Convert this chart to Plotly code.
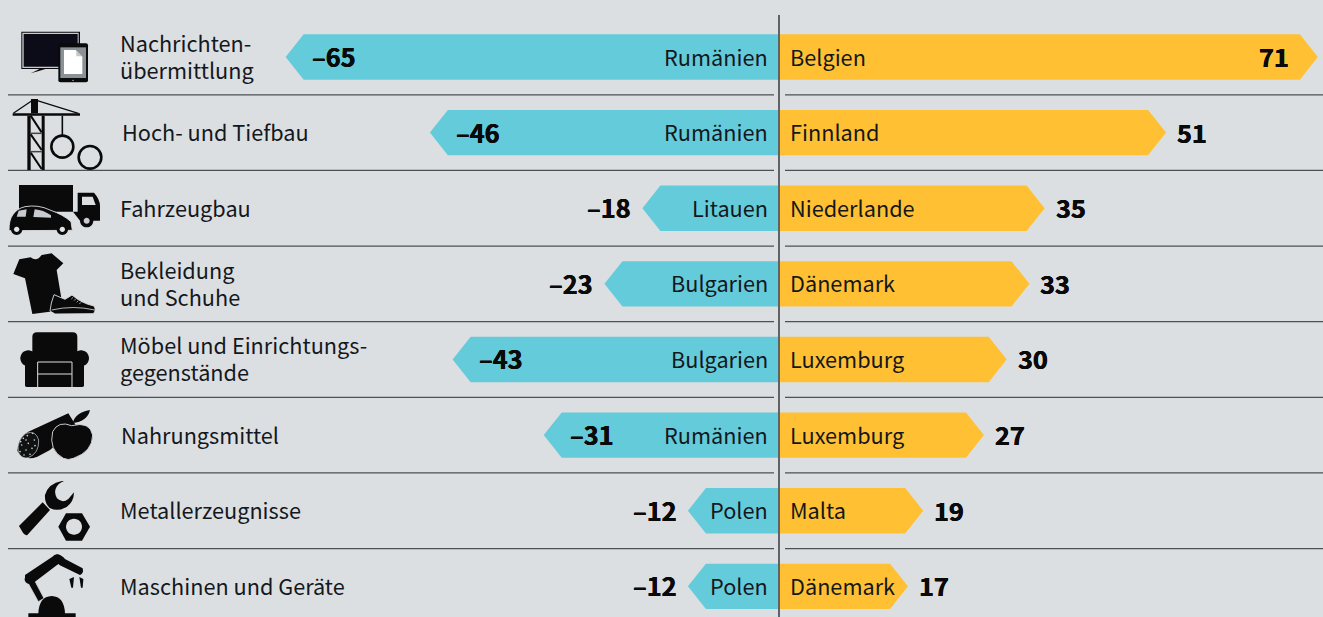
import re
import plotly.graph_objects as go

# ---------- data ----------
categories = ["Nachrichten-<br>übermittlung", "Hoch- und Tiefbau", "Fahrzeugbau", "Bekleidung<br>und Schuhe",
              "Möbel und Einrichtungs-<br>gegenstände", "Nahrungsmittel", "Metallerzeugnisse", "Maschinen und Geräte"]
category_x_px = [120, 122, 120, 120, 120, 121, 120, 120]
low_countries = ["Rumänien", "Rumänien", "Litauen", "Bulgarien", "Bulgarien", "Rumänien", "Polen", "Polen"]
low_values = [-65, -46, -18, -23, -43, -31, -12, -12]
high_countries = ["Belgien", "Finnland", "Niederlande", "Dänemark", "Luxemburg", "Luxemburg", "Malta", "Dänemark"]
high_values = [71, 51, 35, 33, 30, 27, 19, 17]
low_label_inside = [True, True, False, False, True, True, False, False]
high_label_inside = [True, False, False, False, False, False, False, False]

# ---------- style ----------
W, H = 1323, 617
BG = "#dcdfe2"
BLUE = "#64cbda"
YELLOW = "#ffc133"
INK = "#0a0a0a"
TXT = "#14181c"
FONT = "Noto Sans CJK JP"
FS = 21.7
FS_VALUE = 25.3
LINE_PX = 27
CENTER_PX = 779.0
PX_PER_UNIT = 7.59
ROW0_PX = 57.0
ROW_PX = 75.62
HEAD = 18 / PX_PER_UNIT
HALF = 22.7 / ROW_PX

xrange_ = [-CENTER_PX / PX_PER_UNIT, (W - CENTER_PX) / PX_PER_UNIT]
yrange_ = [(H - ROW0_PX) / ROW_PX, -ROW0_PX / ROW_PX]


def arrows(values):
    xs, ys = [], []
    for i, v in enumerate(values):
        sign = 1 if v > 0 else -1
        neck = v - sign * HEAD
        xs += [0, neck, v, neck, 0, 0, None]
        ys += [i - HALF, i - HALF, i, i + HALF, i + HALF, i - HALF, None]
    return xs, ys


fig = go.Figure()
for vals, col, name in [(low_values, BLUE, "Minimum"), (high_values, YELLOW, "Maximum")]:
    xs, ys = arrows(vals)
    fig.add_trace(go.Scatter(x=xs, y=ys, mode="lines", fill="toself", fillcolor=col,
                             line=dict(width=0, color=col), name=name, hoverinfo="skip"))

shapes, ann = [], []

# row separators and centre axis
for i in range(len(categories) - 1):
    yy = i + 0.5
    for x0px, x1px in [(8, 774), (785, W)]:
        shapes.append(dict(type="line", xref="x", yref="y",
                           x0=(x0px - CENTER_PX) / PX_PER_UNIT, x1=(x1px - CENTER_PX) / PX_PER_UNIT,
                           y0=yy, y1=yy, line=dict(color="#4d5054", width=1.3), layer="below"))
shapes.append(dict(type="line", xref="x", yref="paper", x0=0, x1=0, y0=0, y1=1 - 15 / H,
                   line=dict(color="#5f6366", width=2), layer="above"))


# ---------- icons (decorative outlines, in 3x picture units) ----------
def path(d, oy=0):
    toks = re.findall(r"[MLCQZ]|-?\d+\.?\d*", d)
    out, isx = [], True
    for t in toks:
        if t in "MLCQZ":
            out.append(t)
            isx = True
        else:
            v = float(t) / 3
            if isx:
                out.append(f"{v / W:.5f}")
            else:
                out.append(f"{1 - (v + oy) / H:.5f}")
            isx = not isx
    return " ".join(out)


def fillp(d, oy=0, color=INK, edge=None, ew=0):
    shapes.append(dict(type="path", xref="paper", yref="paper", path=path(d, oy), fillcolor=color,
                       line=dict(width=ew, color=edge or color), layer="above"))


def stroke(d, oy=0, w=2, color=INK):
    shapes.append(dict(type="path", xref="paper", yref="paper", path=path(d, oy),
                       fillcolor="rgba(0,0,0,0)", line=dict(width=w, color=color), layer="above"))


def circ(cx, cy, r):
    k = 0.5523 * r
    return (f"M{cx - r} {cy} C{cx - r} {cy - k} {cx - k} {cy - r} {cx} {cy - r} "
            f"C{cx + k} {cy - r} {cx + r} {cy - k} {cx + r} {cy} "
            f"C{cx + r} {cy + k} {cx + k} {cy + r} {cx} {cy + r} "
            f"C{cx - k} {cy + r} {cx - r} {cy + k} {cx - r} {cy} Z")


def rect(a, b, c, d):
    return f"M{a} {b} L{c} {b} L{c} {d} L{a} {d} Z"


def rrect(a, b, c, d, r):
    return (f"M{a + r} {b} L{c - r} {b} Q{c} {b} {c} {b + r} L{c} {d - r} Q{c} {d} {c - r} {d} "
            f"L{a + r} {d} Q{a} {d} {a} {d - r} L{a} {b + r} Q{a} {b} {a + r} {b} Z")


# 1 screen + tablet
fillp(rect(64, 95, 240, 207))
fillp(rect(67, 98, 236, 204), color="#c9ccd0")
fillp(rect(71, 102, 233, 200), color="#0c0c18")
fillp("M92 220 Q108 212 118 207 L136 207 Q118 213 92 220 Z")
fillp(rrect(175, 130, 264, 247, 6))
fillp(rect(181, 142, 258, 234), color="#8b9297")
fillp("M192 150 L227 150 L247 170 L247 222 L192 222 Z", color="#ffffff")
fillp("M229 152 L246 169 L229 169 Z", color="#c4c8cc")
fillp(circ(219, 241, 2), color="#dddddd")

# 2 crane
fillp(rect(38, 340, 240, 347))
fillp(rect(93, 297, 114, 340))
stroke("M40 340 L100 299", w=1.2)
stroke("M112 302 L235 340", w=1.2)
fillp(rect(82, 347, 92, 510))
fillp(rect(125, 347, 134, 510))
for a, b in [(347, 397), (403, 450), (458, 507)]:
    stroke(f"M92 {a} L125 {b}", w=2)
for yy in (400, 455):
    stroke(f"M92 {yy} L125 {yy}", w=1.5, color="#444444")
stroke("M187 347 L187 408", w=1.6)
stroke(circ(187, 440, 33), w=2.6)
stroke(circ(270, 472, 34), w=2.6)

# 3 truck + car
O = 170
fillp(rect(57, 45, 219, 125), O)
fillp("M233 68 L282 68 Q300 88 300 108 L300 152 L240 152 L219 125 L233 125 Z", O)
fillp("M246 80 L278 80 L287 105 L246 105 Z", O, BG)
fillp(circ(260, 152, 20), O)
fillp(circ(260, 152, 9), O, "#c8cbcf")
fillp("M27 182 Q27 150 38 135 Q50 116 75 110 Q115 103 150 120 Q190 134 213 155 L217 181 Z", O, INK, BG, 0.9)
fillp("M56 122 L80 118 L77 140 L50 140 Z", O, "#c8cbcf")
fillp("M104 118 Q130 120 153 136 L153 143 L100 141 Z", O, "#c8cbcf")
for cx in (50, 187):
    fillp(circ(cx, 178, 17), O)
    fillp(circ(cx, 178, 8), O, "#e2e4e6")

# 4 shirt + shoe
fillp("M40 312 L58 268 L92 262 Q110 276 125 255 L155 250 L190 280 L170 300 L190 420 L97 432 L75 325 Z", O)
fillp("M150 423 Q152 400 162 374 L195 388 L216 375 Q245 400 282 408 Q290 420 280 431 L165 432 Z", O, INK, BG, 0.9)
stroke("M155 420 Q220 405 284 420", O, w=0.8, color="#dcdfe2")
for sx, sy in [(206, 382), (214, 387), (222, 392), (230, 397), (238, 402)]:
    stroke(f"M{sx} {sy} L{sx + 5} {sy - 5}", O, w=0.7, color="#dcdfe2")

# 5 armchair
fillp(rrect(97, 487, 232, 590, 14), O)
fillp(circ(85, 565, 24), O)
fillp(circ(243, 565, 24), O)
fillp(rrect(75, 570, 109, 651, 5), O)
fillp(rrect(220, 570, 252, 651, 5), O)
fillp(rect(105, 574, 224, 651), O)
for seg in ["M113 576 L216 576", "M113 612 L216 612", "M113 576 L113 651", "M216 576 L216 651"]:
    stroke(seg, O, w=1, color=BG)

# 6 salami + apple
O = 395
fillp("M52 168 Q55 125 85 110 L205 55 L230 95 L150 165 L112 185 Q75 200 52 168 Z", O)
fillp("M55 172 Q50 135 78 115 Q108 105 116 135 Q118 175 85 188 Q65 193 55 172 Z", O, "#111111", "#c9ccd0", 0.7)
for cx, cy in [(70, 130), (82, 122), (98, 115), (65, 150), (85, 145), (103, 135), (60, 170), (78, 165), (96, 160),
               (72, 180), (90, 178), (105, 152), (62, 140), (78, 135)]:
    fillp(circ(cx, cy, 2.6), O, "#b9dde2")
fillp("M215 92 Q175 76 158 110 Q145 165 190 190 Q205 197 220 190 Q278 170 278 120 Q270 78 215 92 Z", O, INK, BG, 0.9)
fillp("M218 84 Q226 52 270 45 Q262 80 218 84 Z", O)

# 7 wrench + nut
fillp("M57 393 L128 322 L150 345 L82 420 Q74 423 68 412 Z", O)
fillp("M186 258 Q145 265 135 300 Q133 322 148 338 Q172 352 200 336 Q222 320 222 292 L205 312 "
      "Q187 326 171 310 Q160 290 170 275 Q176 265 192 258 Z", O)
fillp("M175 395 L198 355 L246 355 L270 395 L246 437 L198 437 Z", O)
fillp(circ(222, 395, 24), O, BG)

# 8 robot arm
fillp("M82 560 L102 553 L132 610 L115 620 Z", O, INK, BG, 0.8)
fillp("M75 540 L165 480 L178 505 L95 568 Q72 560 75 540 Z", O)
fillp("M168 480 Q185 478 195 492 L248 520 Q252 535 240 540 L178 510 Z", O)
fillp(circ(172, 493, 15), O)
fillp(circ(88, 553, 14), O)
fillp("M208 552 L222 546 L219 578 L214 578 Z", O)
fillp("M238 546 L250 552 L248 578 L243 578 Z", O)
fillp("M115 657 Q116 605 155 603 Q194 605 195 657 Z", O)
fillp(rect(85, 655, 227, 669), O)


# ---------- text ----------
def note(x, y, text, xanchor, xshift=0, yshift=1, bold=False, xref="x"):
    font = dict(family=FONT, size=FS_VALUE if bold else FS, color=INK if bold else TXT)
    if bold:
        font["shadow"] = "0.35px 0 0 #0a0a0a, -0.35px 0 0 #0a0a0a"
    ann.append(dict(x=x, y=y, xref=xref, yref="y", text=f"<b>{text}</b>" if bold else text, showarrow=False,
                    xanchor=xanchor, yanchor="middle", xshift=xshift, yshift=yshift, align="left", font=font))


for i, cat in enumerate(categories):
    parts = cat.split("<br>")
    for k, part in enumerate(parts):
        offset = (k - (len(parts) - 1) / 2) * LINE_PX
        note(category_x_px[i] / W, i, part, "left", xshift=-2, yshift=1 - offset, xref="paper")
    note(0, i, low_countries[i], "right", xshift=-9)
    note(0, i, high_countries[i], "left", xshift=9)
    lv, hv = low_values[i], high_values[i]
    lt = f"–{abs(lv)}"
    if low_label_inside[i]:
        note(lv, i, lt, "left", xshift=24, bold=True)
    else:
        note(lv, i, lt, "right", xshift=-9, bold=True)
    if high_label_inside[i]:
        note(hv, i, str(hv), "right", xshift=-27, bold=True)
    else:
        note(hv, i, str(hv), "left", xshift=9, bold=True)

fig.update_layout(
    width=W, height=H, margin=dict(l=0, r=0, t=0, b=0), showlegend=False,
    paper_bgcolor=BG, plot_bgcolor=BG, shapes=shapes, annotations=ann,
    xaxis=dict(range=xrange_, visible=False, fixedrange=True),
    yaxis=dict(range=yrange_, visible=False, fixedrange=True),
    font=dict(family=FONT),
)
fig.write_html("out.html", config={"displayModeBar": False},
               post_script="document.body.style.margin='0';document.body.style.overflow='hidden';")
